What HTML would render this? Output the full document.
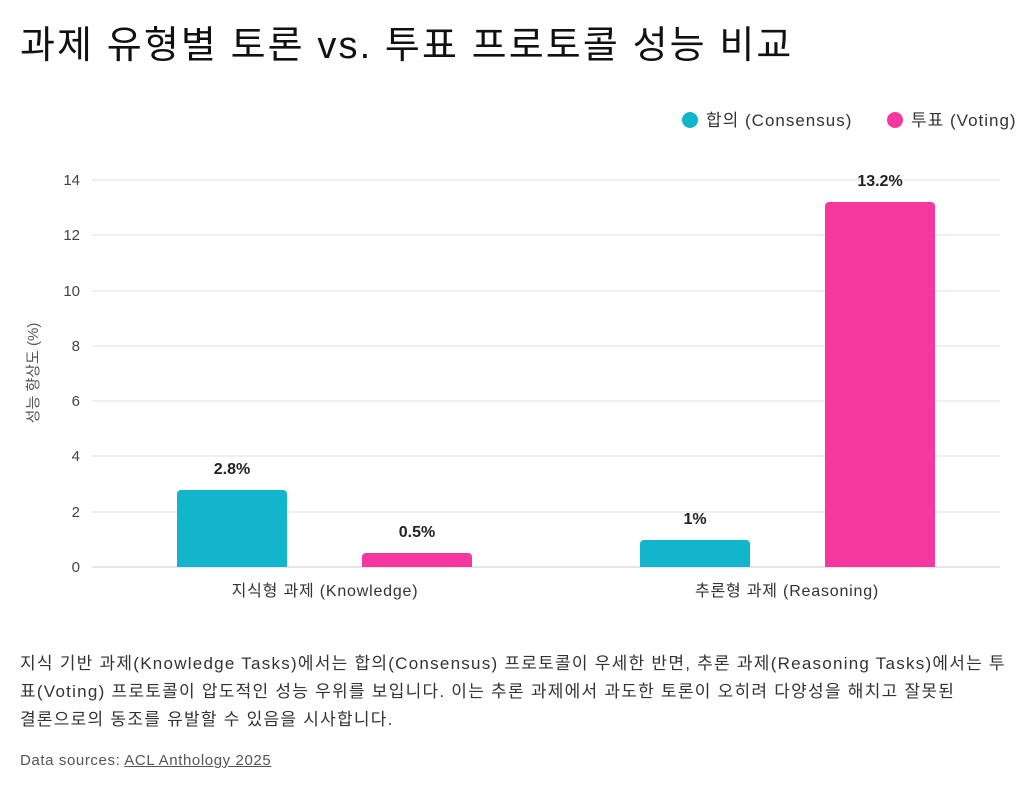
<!DOCTYPE html>
<html><head><meta charset="utf-8"><style>
body{margin:0;background:#fff;width:1024px;height:789px;overflow:hidden;font-family:"Liberation Sans","Noto Sans CJK KR",sans-serif;color:#222}
.t{position:absolute;white-space:nowrap}
</style></head><body>
<div class="t" style="left:20px;top:14px;font-size:38px;letter-spacing:2.1px;color:#111">과제 유형별 토론 vs. 투표 프로토콜 성능 비교</div>
<svg width="1024" height="789" style="position:absolute;left:0;top:0" font-family="Liberation Sans, Noto Sans CJK KR, sans-serif">
<circle cx="690" cy="120" r="8" fill="#12b5cb"/>
<text x="706" y="126" font-size="17" letter-spacing="1" fill="#333">합의 (Consensus)</text>
<circle cx="895" cy="120" r="8" fill="#f538a0"/>
<text x="911" y="126" font-size="17" letter-spacing="1" fill="#333">투표 (Voting)</text>
<g stroke="#e0e0e0" stroke-width="1">
<line x1="92" x2="1000" y1="180" y2="180"/><line x1="92" x2="1000" y1="235" y2="235"/>
<line x1="92" x2="1000" y1="291" y2="291"/><line x1="92" x2="1000" y1="346" y2="346"/>
<line x1="92" x2="1000" y1="401" y2="401"/><line x1="92" x2="1000" y1="456" y2="456"/>
<line x1="92" x2="1000" y1="512" y2="512"/><line x1="92" x2="1000" y1="567" y2="567" stroke="#ccc"/>
</g>
<g font-size="15" fill="#444" text-anchor="end">
<text x="80" y="185">14</text><text x="80" y="240">12</text><text x="80" y="296">10</text>
<text x="80" y="351">8</text><text x="80" y="406">6</text><text x="80" y="461">4</text>
<text x="80" y="517">2</text><text x="80" y="572">0</text>
</g>
<text transform="translate(38,373) rotate(-90)" font-size="15" fill="#555" text-anchor="middle">성능 향상도 (%)</text>
<path d="M177 567V494a4 4 0 0 1 4-4h102a4 4 0 0 1 4 4V567Z" fill="#12b5cb"/>
<path d="M362 567V557a4 4 0 0 1 4-4h102a4 4 0 0 1 4 4V567Z" fill="#f538a0"/>
<path d="M640 567V544a4 4 0 0 1 4-4h102a4 4 0 0 1 4 4V567Z" fill="#12b5cb"/>
<path d="M825 567V206a4 4 0 0 1 4-4h102a4 4 0 0 1 4 4V567Z" fill="#f538a0"/>
<g font-size="16" font-weight="bold" fill="#222" text-anchor="middle">
<text x="232" y="474">2.8%</text><text x="417" y="537">0.5%</text>
<text x="695" y="524">1%</text><text x="880" y="186">13.2%</text>
</g>
<g font-size="16" fill="#333" text-anchor="middle" letter-spacing="0.8">
<text x="325" y="596">지식형 과제 (Knowledge)</text>
<text x="787" y="596">추론형 과제 (Reasoning)</text>
</g>
</svg>
<div class="t" style="left:20px;top:650px;font-size:17px;letter-spacing:1.25px;line-height:28px;color:#333">지식 기반 과제(Knowledge Tasks)에서는 합의(Consensus) 프로토콜이 우세한 반면, 추론 과제(Reasoning Tasks)에서는 투<br>표(Voting) 프로토콜이 압도적인 성능 우위를 보입니다. 이는 추론 과제에서 과도한 토론이 오히려 다양성을 해치고 잘못된<br>결론으로의 동조를 유발할 수 있음을 시사합니다.</div>
<div class="t" style="left:20px;top:752px;font-size:15px;letter-spacing:0.6px;color:#555">Data sources: <span style="text-decoration:underline">ACL Anthology 2025</span></div>
</body></html>
